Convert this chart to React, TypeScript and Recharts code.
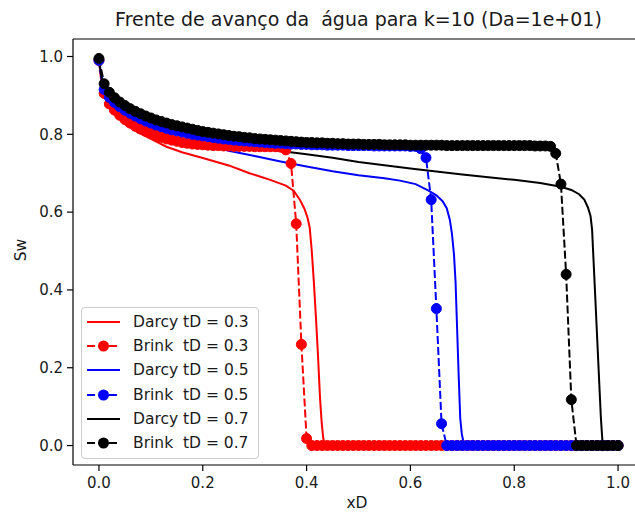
import { LineChart, Line, XAxis, YAxis, ReferenceLine } from "recharts";

const FONT = "'DejaVu Sans', sans-serif";

// Brinkman solution, sampled at xD = 0.00 ... 1.00
const xBrink = [
  0, 0.01, 0.02, 0.03, 0.04, 0.05, 0.06, 0.07, 0.08, 0.09,
  0.1, 0.11, 0.12, 0.13, 0.14, 0.15, 0.16, 0.17, 0.18, 0.19,
  0.2, 0.21, 0.22, 0.23, 0.24, 0.25, 0.26, 0.27, 0.28, 0.29,
  0.3, 0.31, 0.32, 0.33, 0.34, 0.35, 0.36, 0.37, 0.38, 0.39,
  0.4, 0.41, 0.42, 0.43, 0.44, 0.45, 0.46, 0.47, 0.48, 0.49,
  0.5, 0.51, 0.52, 0.53, 0.54, 0.55, 0.56, 0.57, 0.58, 0.59,
  0.6, 0.61, 0.62, 0.63, 0.64, 0.65, 0.66, 0.67, 0.68, 0.69,
  0.7, 0.71, 0.72, 0.73, 0.74, 0.75, 0.76, 0.77, 0.78, 0.79,
  0.8, 0.81, 0.82, 0.83, 0.84, 0.85, 0.86, 0.87, 0.88, 0.89,
  0.9, 0.91, 0.92, 0.93, 0.94, 0.95, 0.96, 0.97, 0.98, 0.99,
  1.0,
];

const swBrink03 = [
  0.99, 0.905, 0.878, 0.862, 0.849, 0.838, 0.829, 0.821, 0.814, 0.808,
  0.802, 0.797, 0.792, 0.788, 0.785, 0.782, 0.779, 0.777, 0.775, 0.774,
  0.773, 0.772, 0.771, 0.771, 0.77, 0.77, 0.769, 0.769, 0.769, 0.769,
  0.768, 0.768, 0.768, 0.768, 0.768, 0.767, 0.76, 0.725, 0.57, 0.26,
  0.018, 0, 0, 0, 0, 0, 0, 0, 0, 0,
  0, 0, 0, 0, 0, 0, 0, 0, 0, 0,
  0, 0, 0, 0, 0, 0, 0, 0, 0, 0,
  0, 0, 0, 0, 0, 0, 0, 0, 0, 0,
  0, 0, 0, 0, 0, 0, 0, 0, 0, 0,
  0, 0, 0, 0, 0, 0, 0, 0, 0, 0,
  0,
];

const swBrink05 = [
  0.99, 0.915, 0.895, 0.882, 0.871, 0.862, 0.854, 0.847, 0.84, 0.834,
  0.829, 0.824, 0.82, 0.816, 0.812, 0.809, 0.806, 0.803, 0.8, 0.798,
  0.796, 0.794, 0.792, 0.79, 0.788, 0.787, 0.785, 0.784, 0.783, 0.782,
  0.781, 0.78, 0.779, 0.778, 0.777, 0.777, 0.776, 0.775, 0.775, 0.774,
  0.774, 0.773, 0.773, 0.773, 0.772, 0.772, 0.772, 0.772, 0.771, 0.771,
  0.771, 0.771, 0.771, 0.77, 0.77, 0.77, 0.77, 0.77, 0.77, 0.77,
  0.769, 0.769, 0.763, 0.74, 0.632, 0.352, 0.056, 0, 0, 0,
  0, 0, 0, 0, 0, 0, 0, 0, 0, 0,
  0, 0, 0, 0, 0, 0, 0, 0, 0, 0,
  0, 0, 0, 0, 0, 0, 0, 0, 0, 0,
  0,
];

const swBrink07 = [
  0.995, 0.93, 0.908, 0.894, 0.883, 0.874, 0.866, 0.859, 0.853, 0.847,
  0.842, 0.837, 0.833, 0.829, 0.825, 0.822, 0.819, 0.816, 0.813, 0.81,
  0.807, 0.805, 0.803, 0.801, 0.799, 0.797, 0.795, 0.794, 0.792, 0.791,
  0.789, 0.788, 0.787, 0.786, 0.785, 0.784, 0.783, 0.782, 0.781, 0.78,
  0.779, 0.779, 0.778, 0.778, 0.777, 0.777, 0.776, 0.776, 0.775, 0.775,
  0.775, 0.774, 0.774, 0.774, 0.774, 0.773, 0.773, 0.773, 0.773, 0.773,
  0.772, 0.772, 0.772, 0.772, 0.772, 0.772, 0.772, 0.771, 0.771, 0.771,
  0.771, 0.771, 0.771, 0.771, 0.771, 0.771, 0.771, 0.771, 0.771, 0.771,
  0.771, 0.771, 0.771, 0.771, 0.77, 0.77, 0.77, 0.769, 0.751, 0.672,
  0.44, 0.118, 0, 0, 0, 0, 0, 0, 0, 0,
  0,
];

// Darcy solution, finer sampling near the fronts
const xDarcy03 = [
  0, 0.005, 0.01, 0.02, 0.03, 0.05, 0.075, 0.1, 0.13, 0.16, 0.2, 0.25, 0.29, 0.33,
  0.36, 0.375, 0.387, 0.396, 0.402, 0.406, 0.41, 0.414, 0.418, 0.422, 0.426,
  0.429, 0.432, 0.435, 1.0,
];
const swDarcy03 = [
  0.99, 0.93, 0.9, 0.87, 0.853, 0.826, 0.805, 0.788, 0.768, 0.754, 0.739, 0.72, 0.7, 0.683,
  0.668, 0.655, 0.632, 0.608, 0.585, 0.56, 0.5, 0.42, 0.33, 0.23, 0.12,
  0.06, 0.02, 0, 0,
];

const xDarcy05 = [
  0, 0.005, 0.01, 0.02, 0.03, 0.05, 0.075, 0.1, 0.15, 0.2, 0.25, 0.3, 0.35, 0.4,
  0.45, 0.5, 0.55, 0.58, 0.61, 0.635, 0.65, 0.662, 0.67, 0.676, 0.68, 0.684,
  0.687, 0.69, 0.693, 0.696, 0.699, 0.702, 0.705, 1.0,
];
const swDarcy05 = [
  0.99, 0.94, 0.91, 0.884, 0.869, 0.848, 0.83, 0.815, 0.792, 0.775, 0.758, 0.744, 0.73, 0.717,
  0.705, 0.695, 0.687, 0.681, 0.672, 0.655, 0.643, 0.628, 0.61, 0.58, 0.545, 0.49,
  0.42, 0.3, 0.18, 0.07, 0.03, 0.01, 0, 0,
];

const xDarcy07 = [
  0, 0.005, 0.01, 0.02, 0.03, 0.05, 0.075, 0.1, 0.15, 0.2, 0.25, 0.3, 0.35, 0.4,
  0.45, 0.5, 0.6, 0.7, 0.8, 0.85, 0.89, 0.91, 0.925, 0.935, 0.942, 0.947,
  0.95, 0.953, 0.956, 0.96, 0.964, 0.967, 0.97, 0.973, 1.0,
];
const swDarcy07 = [
  0.99, 0.945, 0.92, 0.893, 0.877, 0.856, 0.838, 0.824, 0.802, 0.787, 0.775, 0.766, 0.757, 0.749,
  0.74, 0.729, 0.712, 0.697, 0.683, 0.675, 0.665, 0.657, 0.646, 0.632, 0.612, 0.59,
  0.555, 0.47, 0.385, 0.27, 0.155, 0.07, 0.01, 0, 0,
];

const xTicks = [0, 0.2, 0.4, 0.6, 0.8, 1.0];
const yTicks = [0, 0.2, 0.4, 0.6, 0.8, 1.0];

const toPoints = (xs: number[], ys: number[]) => xs.map((x, i) => ({ x, y: ys[i] }));

const series = [
  { name: "Darcy tD = 0.3", color: "#ff0000", data: toPoints(xDarcy03, swDarcy03), brink: false },
  { name: "Brink  tD = 0.3", color: "#ff0000", data: toPoints(xBrink, swBrink03), brink: true },
  { name: "Darcy tD = 0.5", color: "#0000ff", data: toPoints(xDarcy05, swDarcy05), brink: false },
  { name: "Brink  tD = 0.5", color: "#0000ff", data: toPoints(xBrink, swBrink05), brink: true },
  { name: "Darcy tD = 0.7", color: "#000000", data: toPoints(xDarcy07, swDarcy07), brink: false },
  { name: "Brink  tD = 0.7", color: "#000000", data: toPoints(xBrink, swBrink07), brink: true },
];

const tickStyle = { fontSize: 15, fontFamily: FONT, fill: "#1a1a1a" };

function LegendBox() {
  return (
    <div
      style={{
        position: "absolute", left: 81, top: 307, width: 176, height: 148,
        border: "1px solid #cccccc", borderRadius: 4, background: "rgba(255,255,255,0.8)",
        paddingTop: 2, fontFamily: FONT, fontSize: 15.5, color: "#1a1a1a",
      }}
    >
      {series.map((s) => (
        <div key={s.name} style={{ height: 24.2, display: "flex", alignItems: "center" }}>
          <svg width={38} height={24} style={{ marginLeft: 4, flexShrink: 0 }}>
            <line x1={1} x2={34} y1={12} y2={12} stroke={s.color} strokeWidth={2}
              strokeDasharray={s.brink ? "8 3" : undefined} />
            {s.brink && <circle cx={17.5} cy={12} r={5.5} fill={s.color} />}
          </svg>
          <span style={{ marginLeft: 9, whiteSpace: "pre" }}>{s.name}</span>
        </div>
      ))}
    </div>
  );
}

export default function App() {
  return (
    <div style={{ position: "absolute", left: 0, top: 0, width: 635, height: 513, overflow: "hidden", background: "#fff" }}>
      <div style={{ position: "absolute", left: 0, width: 717, top: 8, textAlign: "center", fontFamily: FONT, fontSize: 19, color: "#1a1a1a", whiteSpace: "pre" }}>
        Frente de avanço da  água para k=10 (Da=1e+01)
      </div>
      <LineChart width={660} height={513} margin={{ top: 39, right: 16, bottom: 0, left: 0 }}>
        <XAxis
          type="number" dataKey="x" domain={[-0.05, 1.05]} ticks={xTicks} allowDataOverflow
          tickFormatter={(v: number) => v.toFixed(1)} height={48} tickSize={6} tickMargin={6}
          tick={tickStyle} stroke="#000" axisLine={{ stroke: "#000", strokeWidth: 1.2 }}
          tickLine={{ stroke: "#000", strokeWidth: 1.2 }}
        />
        <YAxis
          type="number" domain={[-0.05, 1.045]} ticks={yTicks} allowDataOverflow
          tickFormatter={(v: number) => v.toFixed(1)} width={73} tickSize={6} tickMargin={4}
          tick={tickStyle} stroke="#000" axisLine={{ stroke: "#000", strokeWidth: 1.2 }}
          tickLine={{ stroke: "#000", strokeWidth: 1.2 }}
        />
        <ReferenceLine y={1.045} stroke="#000" strokeWidth={1.2} />
        {series.map((s) => (
          <Line
            key={s.name} data={s.data} dataKey="y" type="linear" name={s.name}
            stroke={s.color} strokeWidth={2}
            strokeDasharray={s.brink ? "8 3" : undefined}
            dot={s.brink ? { r: 5, fill: s.color, stroke: s.color, strokeWidth: 1, strokeDasharray: "" } : false}
            activeDot={false} isAnimationActive={false}
          />
        ))}
      </LineChart>
      <LegendBox />
      <div style={{ position: "absolute", left: 10, top: 240, width: 24, height: 20, fontFamily: FONT, fontSize: 15.5, color: "#1a1a1a", transform: "rotate(-90deg)", textAlign: "center" }}>
        Sw
      </div>
      <div style={{ position: "absolute", left: 337, top: 494, width: 40, textAlign: "center", fontFamily: FONT, fontSize: 15.5, color: "#1a1a1a" }}>
        xD
      </div>
    </div>
  );
}
